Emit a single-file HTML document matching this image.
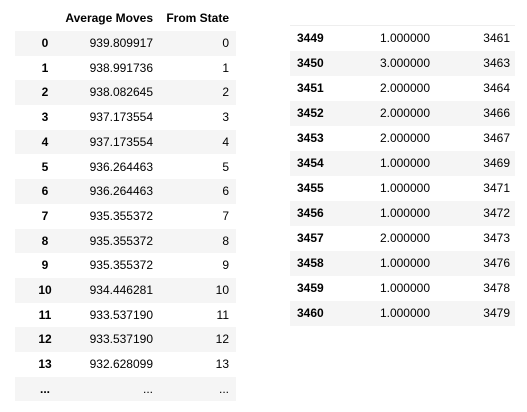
<!DOCTYPE html>
<html><head><meta charset="utf-8"><style>
body{margin:0;width:527px;height:412px;background:#fff;font-family:"Liberation Sans",Arial,sans-serif;font-size:12px;color:#000;overflow:hidden;position:relative}
.r{position:absolute;height:24.7px;line-height:24.7px}
.s{background:#f5f5f5}
.c{position:absolute;top:0}
.b{font-weight:bold}
.rt{text-align:right}
</style></head><body>
<div id="lt"></div>
<div id="rt"></div>
<script>
const leftIdx=['0','1','2','3','4','5','6','7','8','9','10','11','12','13','...'];
const leftAvg=['939.809917','938.991736','938.082645','937.173554','937.173554','936.264463','936.264463','935.355372','935.355372','935.355372','934.446281','933.537190','933.537190','932.628099','...'];
const leftFrom=['0','1','2','3','4','5','6','7','8','9','10','11','12','13','...'];
const rightIdx=['3449','3450','3451','3452','3453','3454','3455','3456','3457','3458','3459','3460'];
const rightAvg=['1.000000','3.000000','2.000000','2.000000','2.000000','1.000000','1.000000','1.000000','2.000000','1.000000','1.000000','1.000000'];
const rightFrom=['3461','3463','3464','3466','3467','3469','3471','3472','3473','3476','3478','3479'];
const lt=document.getElementById('lt');
let h=document.createElement('div');


h.style.cssText='position:absolute;left:15px;top:6px;width:221px;height:25px;line-height:25px;border-bottom:1px solid #000;font-weight:bold';
h.innerHTML='<span class="c rt" style="left:0;width:138px">Average Moves</span><span class="c rt" style="left:0;width:214px">From State</span>';
lt.appendChild(h);
leftIdx.forEach((v,i)=>{
 const r=document.createElement('div');
 
 
 r.className='r'+(i%2==0?' s':'');
 r.style.left='15px';r.style.width='221px';r.style.top=(31+i*24.7)+'px';
 r.innerHTML='<span class="c b" style="left:15px;width:30px;text-align:center">'+v+'</span><span class="c rt" style="left:0;width:138px">'+leftAvg[i]+'</span><span class="c rt" style="left:0;width:214px">'+leftFrom[i]+'</span>';
 lt.appendChild(r);
});
const rt=document.getElementById('rt');
let l=document.createElement('div');


l.style.cssText='position:absolute;left:290px;top:25px;width:225px;height:1px;background:#eee';
rt.appendChild(l);
rightIdx.forEach((v,i)=>{
 const r=document.createElement('div');
 
 
 r.className='r'+(i%2==1?' s':'');
 r.style.left='290px';r.style.width='225px';r.style.top=(26+i*25)+'px';
 r.innerHTML='<span class="c b" style="left:7px">'+v+'</span><span class="c rt" style="left:0;width:140px">'+rightAvg[i]+'</span><span class="c rt" style="left:0;width:220px">'+rightFrom[i]+'</span>';
 rt.appendChild(r);
});
</script>
</body></html>
